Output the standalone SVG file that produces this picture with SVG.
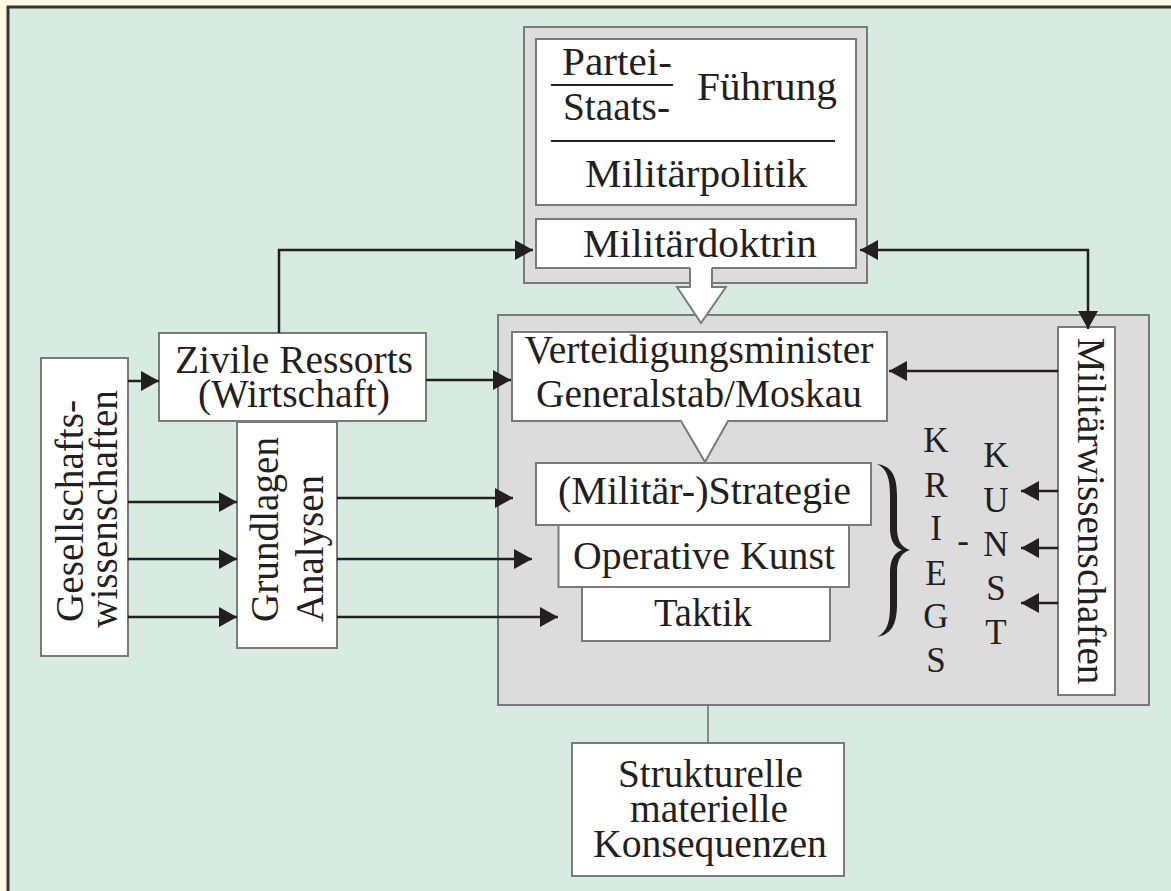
<svg xmlns="http://www.w3.org/2000/svg" width="1171" height="891" viewBox="0 0 1171 891">
<style>
  text { font-family: "Liberation Serif", "Times New Roman", serif; fill: #231f20; font-size: 39px; }
  .m { text-anchor: middle; }
  .s { text-anchor: start; }
  .box { fill: #ffffff; stroke: #7a7a7a; stroke-width: 2; }
  .grp { fill: #dcdcdc; stroke: #7a7a7a; stroke-width: 2; }
  .c { fill: none; stroke: #231f20; stroke-width: 2.5; }
  .thin { fill: none; stroke: #6d6d6d; stroke-width: 1.5; }
  .rule { stroke: #231f20; stroke-width: 2.2; }
  .let { font-size: 35px; text-anchor: middle; }
</style>
<defs>
  <marker id="ah" markerUnits="userSpaceOnUse" markerWidth="20" markerHeight="20" viewBox="0 0 20 20" refX="18" refY="10" orient="auto-start-reverse">
    <path d="M0,0 L18,10 L0,20 Z" fill="#231f20"/>
  </marker>
</defs>

<!-- background and frame -->
<rect x="0" y="0" width="1171" height="891" fill="#fffbe3"/>
<rect x="8" y="7" width="1200" height="950" fill="#d7ebe0" stroke="#333333" stroke-width="3"/>

<!-- containers -->
<g id="container-main">
  <rect class="grp" x="498" y="315" width="651" height="390"/>
</g>
<g id="container-top">
  <rect class="grp" x="524" y="27" width="343" height="256"/>
</g>

<!-- top: Partei/Staats-Führung / Militärpolitik -->
<g id="node-fuehrung">
  <rect class="box" x="536" y="39" width="320" height="166"/>
  <text class="m" x="617" y="75" textLength="110" lengthAdjust="spacingAndGlyphs">Partei-</text>
  <line class="rule" x1="551" y1="85" x2="673" y2="85"/>
  <text class="m" x="616.5" y="120" textLength="107" lengthAdjust="spacingAndGlyphs">Staats-</text>
  <text class="m" x="767" y="100" textLength="140" lengthAdjust="spacingAndGlyphs">Führung</text>
  <line class="rule" x1="551" y1="141" x2="835" y2="141"/>
  <text class="m" x="696" y="187" textLength="222" lengthAdjust="spacingAndGlyphs">Militärpolitik</text>
</g>

<g id="node-doktrin">
  <rect class="box" x="536" y="219" width="320" height="49"/>
  <text class="m" x="700" y="257" textLength="234" lengthAdjust="spacingAndGlyphs">Militärdoktrin</text>
</g>

<!-- Verteidigungsminister with callout -->
<g id="node-verteidigung">
  <path class="box" d="M512,332 H887 V421 H728 L705,462 L681,421 H512 Z"/>
  <text class="m" x="699" y="363" textLength="349" lengthAdjust="spacingAndGlyphs">Verteidigungsminister</text>
  <text class="m" x="699" y="407" textLength="326" lengthAdjust="spacingAndGlyphs">Generalstab/Moskau</text>
</g>

<g id="node-strategie">
  <rect class="box" x="536" y="463" width="335" height="62"/>
  <text class="m" x="704.5" y="504" textLength="293" lengthAdjust="spacingAndGlyphs">(Militär-)Strategie</text>
</g>
<g id="node-operativ">
  <rect class="box" x="558.5" y="525" width="290.5" height="62"/>
  <text class="m" x="704" y="569" textLength="262" lengthAdjust="spacingAndGlyphs">Operative Kunst</text>
</g>
<g id="node-taktik">
  <rect class="box" x="582" y="587" width="248" height="54"/>
  <text class="m" x="703" y="626" textLength="98" lengthAdjust="spacingAndGlyphs">Taktik</text>
</g>

<!-- brace and Kriegskunst letters -->
<g id="brace-kriegskunst">
  <path fill="#231f20" d="M877,464 C893,466 897,478 897,496 L897,528 C897,540 901,547 910,550 C901,553 897,560 897,572 L897,604 C897,622 893,634 877,637 C887,632 890,622 890,606 L890,572 C890,560 894,553 902,550 C894,547 890,540 890,528 L890,496 C890,478 887,469 877,464 Z"/>
  <text class="let" x="936" y="452">K</text>
  <text class="let" x="936" y="497">R</text>
  <text class="let" x="936" y="540">I</text>
  <text class="let" x="936" y="585">E</text>
  <text class="let" x="936" y="628">G</text>
  <text class="let" x="936" y="672">S</text>
  <text class="let" x="963" y="552">-</text>
  <text class="let" x="996" y="467">K</text>
  <text class="let" x="996" y="512">U</text>
  <text class="let" x="996" y="556">N</text>
  <text class="let" x="996" y="600">S</text>
  <text class="let" x="996" y="644">T</text>
</g>

<g id="node-militaerwiss">
  <rect class="box" x="1058" y="327" width="57" height="368"/>
  <text class="m" transform="translate(1078,511) rotate(90)" textLength="347" lengthAdjust="spacingAndGlyphs">Militärwissenschaften</text>
</g>

<g id="node-zivile">
  <rect class="box" x="159" y="333" width="267" height="88"/>
  <text class="m" x="294" y="373" textLength="238" lengthAdjust="spacingAndGlyphs">Zivile Ressorts</text>
  <text class="m" x="294" y="407" textLength="192" lengthAdjust="spacingAndGlyphs">(Wirtschaft)</text>
</g>

<g id="node-gesellschaft">
  <rect class="box" x="41" y="358" width="87" height="298"/>
  <text class="m" transform="translate(83,511) rotate(-90)" textLength="222" lengthAdjust="spacingAndGlyphs">Gesellschafts-</text>
  <text class="m" transform="translate(117,509) rotate(-90)" textLength="238" lengthAdjust="spacingAndGlyphs">wissenschaften</text>
</g>

<g id="node-grundlagen">
  <rect class="box" x="237" y="422" width="100" height="226"/>
  <text class="s" transform="translate(278,622) rotate(-90)" textLength="185" lengthAdjust="spacingAndGlyphs">Grundlagen</text>
  <text class="s" transform="translate(323,622) rotate(-90)" textLength="147" lengthAdjust="spacingAndGlyphs">Analysen</text>
</g>

<g id="node-konsequenzen">
  <rect class="box" x="572" y="743" width="272" height="133"/>
  <text class="m" x="710.5" y="787" textLength="185" lengthAdjust="spacingAndGlyphs">Strukturelle</text>
  <text class="m" x="709" y="822" textLength="158" lengthAdjust="spacingAndGlyphs">materielle</text>
  <text class="m" x="710" y="857" textLength="234" lengthAdjust="spacingAndGlyphs">Konsequenzen</text>
</g>

<!-- connectors -->
<g id="connectors">
  <!-- block arrow Militärdoktrin -> Verteidigungsminister -->
  <polygon points="690,266 690,287 677,287 701,323 726,287 712,287 712,266" fill="#ffffff"/>
  <polyline points="690,268 690,287 677,287 701,323 726,287 712,287 712,268" fill="none" stroke="#7a7a7a" stroke-width="2"/>

  <line class="c" x1="128" y1="381" x2="159" y2="381" marker-end="url(#ah)"/>
  <line class="c" x1="128" y1="502" x2="237" y2="502" marker-end="url(#ah)"/>
  <line class="c" x1="128" y1="559" x2="237" y2="559" marker-end="url(#ah)"/>
  <line class="c" x1="128" y1="617" x2="237" y2="617" marker-end="url(#ah)"/>

  <polyline class="c" points="279,333 279,250 533,250" marker-end="url(#ah)"/>
  <line class="c" x1="426" y1="380" x2="511" y2="380" marker-end="url(#ah)"/>

  <line class="c" x1="337" y1="498" x2="513" y2="498" marker-end="url(#ah)"/>
  <line class="c" x1="337" y1="559" x2="532" y2="559" marker-end="url(#ah)"/>
  <line class="c" x1="337" y1="617" x2="558" y2="617" marker-end="url(#ah)"/>

  <polyline class="c" points="860,250 1088,250 1088,329" marker-start="url(#ah)" marker-end="url(#ah)"/>
  <line class="c" x1="1058" y1="371" x2="889" y2="371" marker-end="url(#ah)"/>

  <line class="c" x1="1058" y1="491" x2="1021" y2="491" marker-end="url(#ah)"/>
  <line class="c" x1="1058" y1="548" x2="1021" y2="548" marker-end="url(#ah)"/>
  <line class="c" x1="1058" y1="603" x2="1021" y2="603" marker-end="url(#ah)"/>

  <line class="thin" x1="708" y1="705" x2="708" y2="743"/>
</g>
</svg>
